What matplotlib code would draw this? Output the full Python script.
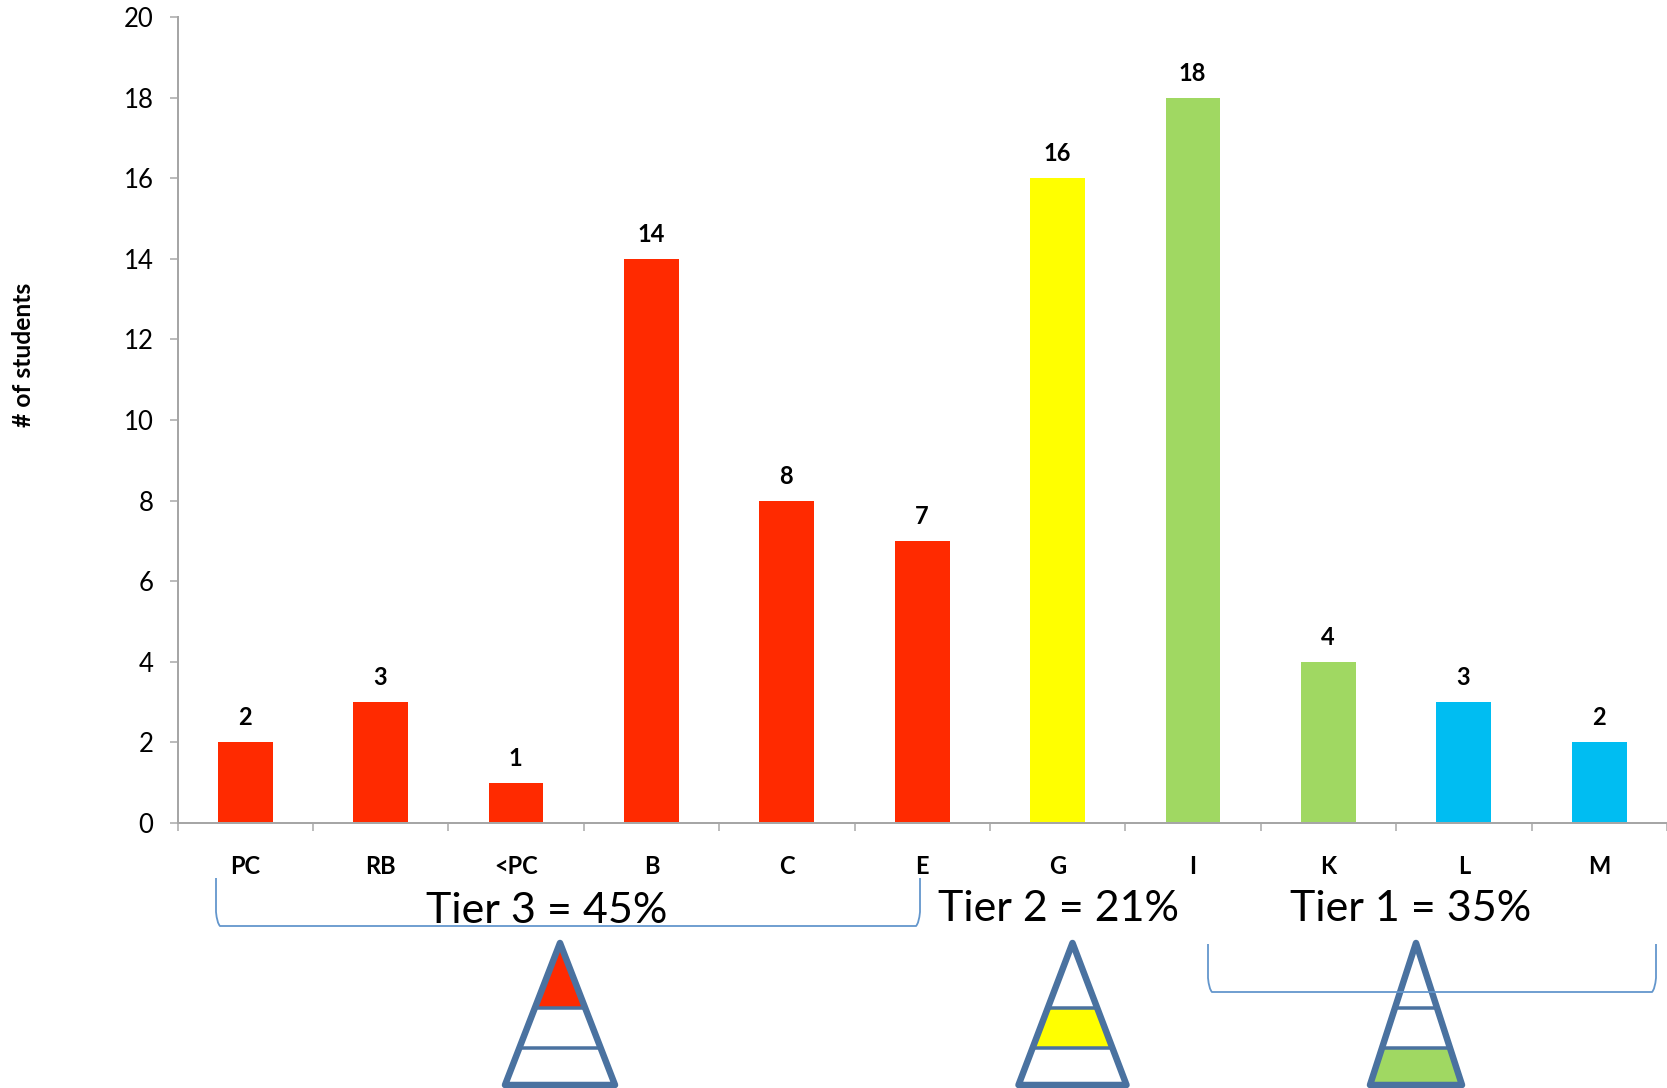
import matplotlib
matplotlib.use("Agg")
import matplotlib.pyplot as plt
from matplotlib.patches import PathPatch, Polygon
from matplotlib.path import Path

plt.rcParams['font.family'] = ['Lato', 'DejaVu Sans']

categories = ["PC", "RB", "<PC", "B", "C", "E", "G", "I", "K", "L", "M"]
students = [2, 3, 1, 14, 8, 7, 16, 18, 4, 3, 2]
RED, YELLOW, GREEN, BLUE = "#FF2A00", "#FFFF00", "#A0D862", "#00BDF2"
bar_colors = [RED] * 6 + [YELLOW, GREEN, GREEN, BLUE, BLUE]
y_ticks = list(range(0, 21, 2))

W, H = 1667, 1088
AXIS_GREY = "#A6A6A6"
SHAPE_BLUE = "#4A72A0"
BRACKET_BLUE = "#6396CC"
PX = 72 / 100  # one pixel in points at dpi 100

fig = plt.figure(figsize=(W / 100, H / 100), dpi=100)

# plot area in pixels: x 177.5..1667, y 17..823
ax = fig.add_axes([177.5 / W, (H - 823) / H, (W - 177.5) / W, (823 - 17) / H])
xs = list(range(len(categories)))
ax.bar(xs, students, width=0.405, color=bar_colors, linewidth=0)
ax.set_xlim(-0.5, 10.5)
ax.set_ylim(0, 20)

for x, v in zip(xs, students):
    ax.annotate(str(v), (x, v), xytext=(-0.5 * PX, 13 * PX), textcoords="offset points",
                ha="center", va="bottom", fontsize=17, fontweight="bold", color="black")

for s in ("top", "right"):
    ax.spines[s].set_visible(False)
for s in ("left", "bottom"):
    ax.spines[s].set_color(AXIS_GREY)
    ax.spines[s].set_linewidth(2 * PX)

ax.set_yticks(y_ticks)
ax.tick_params(axis="y", length=8 * PX, width=1.5 * PX, color=AXIS_GREY, labelsize=18.5, pad=16 * PX)
ax.set_xticks([i - 0.5 for i in range(12)])
ax.set_xticklabels([])
ax.tick_params(axis="x", which="major", length=8 * PX, width=1.5 * PX, color=AXIS_GREY)
ax.set_xticks(xs, minor=True)
ax.set_xticklabels(categories, minor=True, fontsize=17, fontweight="bold")
ax.tick_params(axis="x", which="minor", length=0, pad=32.5 * PX)

# overlay in pixel coordinates for the tier notes drawn on top of the chart
ov = fig.add_axes([0, 0, 1, 1], facecolor="none")
ov.set_xlim(0, W)
ov.set_ylim(H, 0)
ov.axis("off")

ov.text(24, 355, "# of students", rotation=90, ha="center", va="center",
        fontsize=17.7, fontweight="bold", color="black")

ov.text(546.5, 911, "Tier 3 = 45%", ha="center", va="center", fontsize=31, color="black")
ov.text(1058.5, 909, "Tier 2 = 21%", ha="center", va="center", fontsize=31, color="black")
ov.text(1410.5, 909, "Tier 1 = 35%", ha="center", va="center", fontsize=31, color="black")


def pyramid(cx, half, fill, band):
    top, div1, div2, base = 943, 1008, 1048, 1085
    def half_at(y):
        return half * (y - top) / (base - top)
    y0, y1 = [(top, div1), (div1, div2), (div2, base)][band]
    ov.add_patch(Polygon([(cx - half_at(y0), y0), (cx + half_at(y0), y0),
                          (cx + half_at(y1), y1), (cx - half_at(y1), y1)],
                         facecolor=fill, edgecolor="none"))
    ov.add_patch(Polygon([(cx, top), (cx + half, base), (cx - half, base)], closed=True,
                         facecolor="none", edgecolor=SHAPE_BLUE, linewidth=6.5 * PX,
                         joinstyle="round"))
    for y in (div1, div2):
        ov.plot([cx - half_at(y), cx + half_at(y)], [y, y], color=SHAPE_BLUE,
                linewidth=3.5 * PX, solid_capstyle="butt")


pyramid(560, 55, RED, 0)
pyramid(1072.5, 54, YELLOW, 1)
pyramid(1416, 46, GREEN, 2)


def bracket(x0, x1, top, bottom):
    verts = [(x0, top), (x0, bottom - 14), (x0 + 1, bottom - 3), (x0 + 4, bottom),
             (x1 - 4, bottom), (x1 - 1, bottom - 3), (x1, bottom - 14), (x1, top)]
    codes = [Path.MOVETO, Path.LINETO, Path.CURVE3, Path.CURVE3,
             Path.LINETO, Path.CURVE3, Path.CURVE3, Path.LINETO]
    ov.add_patch(PathPatch(Path(verts, codes), facecolor="none",
                           edgecolor=BRACKET_BLUE, linewidth=1.8 * PX))


bracket(216, 920, 878, 926)
bracket(1208, 1656, 944, 992)

fig.savefig("out.png", dpi=100, facecolor="white")
